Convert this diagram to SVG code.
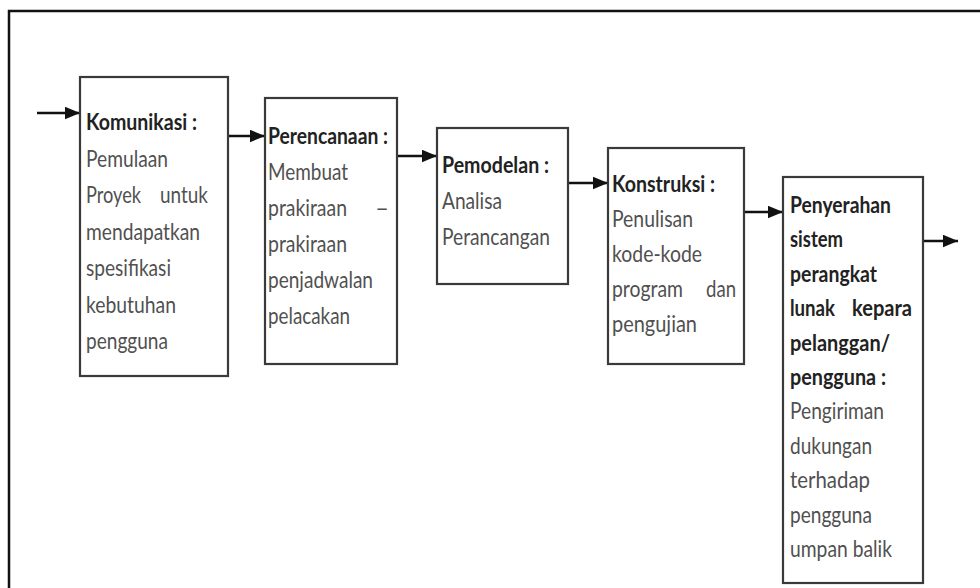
<svg xmlns="http://www.w3.org/2000/svg" width="980" height="588" viewBox="0 0 980 588">
  <style>
    .frame { fill: none; stroke: #111; stroke-width: 2.5; }
    .box { fill: #fff; stroke: #3a3a3a; stroke-width: 2.2; }
    .conn { stroke: #111; stroke-width: 2.5; fill: none; }
    text { font-family: Lato, "Open Sans", "Liberation Sans", sans-serif; font-size: 23.5px; }
    .h { font-weight: bold; fill: #222; }
    .b { fill: #505050; }
  </style>
  <defs>
    <marker id="arrow" viewBox="0 0 12 10" refX="12" refY="5" markerWidth="15" markerHeight="13" markerUnits="userSpaceOnUse" orient="auto">
      <path d="M0,0 L12,5 L0,10 Z" fill="#111"/>
    </marker>
  </defs>

  <rect width="980" height="588" fill="#fff"/>
  <!-- outer frame running off the right and bottom edges -->
  <path class="frame" d="M9,600 V11 H990"/>

  <g id="connectors">
    <line class="conn" x1="37" y1="113" x2="80" y2="113" marker-end="url(#arrow)"/>
    <line class="conn" x1="228" y1="136" x2="265" y2="136" marker-end="url(#arrow)"/>
    <line class="conn" x1="397" y1="156" x2="437" y2="156" marker-end="url(#arrow)"/>
    <line class="conn" x1="568" y1="183" x2="608" y2="183" marker-end="url(#arrow)"/>
    <line class="conn" x1="744" y1="212" x2="783" y2="212" marker-end="url(#arrow)"/>
    <line class="conn" x1="923" y1="241" x2="958" y2="241" marker-end="url(#arrow)"/>
  </g>

  <g id="komunikasi">
    <rect class="box" x="80" y="77" width="148" height="299"/>
    <text class="h" x="86" y="130" textLength="111" lengthAdjust="spacingAndGlyphs">Komunikasi :</text>
    <text class="b" x="86" y="166.5" textLength="82" lengthAdjust="spacingAndGlyphs">Pemulaan</text>
    <text class="b" x="86" y="203" textLength="55" lengthAdjust="spacingAndGlyphs">Proyek</text>
    <text class="b" x="160" y="203" textLength="48" lengthAdjust="spacingAndGlyphs">untuk</text>
    <text class="b" x="86" y="239.5" textLength="114" lengthAdjust="spacingAndGlyphs">mendapatkan</text>
    <text class="b" x="86" y="276" textLength="85" lengthAdjust="spacingAndGlyphs">spesifikasi</text>
    <text class="b" x="86" y="312.5" textLength="90" lengthAdjust="spacingAndGlyphs">kebutuhan</text>
    <text class="b" x="86" y="349" textLength="82" lengthAdjust="spacingAndGlyphs">pengguna</text>
  </g>

  <g id="perencanaan">
    <rect class="box" x="265" y="98" width="132" height="266"/>
    <text class="h" x="268" y="144" textLength="120" lengthAdjust="spacingAndGlyphs">Perencanaan :</text>
    <text class="b" x="268" y="180" textLength="80" lengthAdjust="spacingAndGlyphs">Membuat</text>
    <text class="b" x="268" y="216" textLength="79" lengthAdjust="spacingAndGlyphs">prakiraan</text>
    <text class="b" x="389" y="216" text-anchor="end">–</text>
    <text class="b" x="268" y="252" textLength="79" lengthAdjust="spacingAndGlyphs">prakiraan</text>
    <text class="b" x="268" y="288" textLength="105" lengthAdjust="spacingAndGlyphs">penjadwalan</text>
    <text class="b" x="268" y="324" textLength="82" lengthAdjust="spacingAndGlyphs">pelacakan</text>
  </g>

  <g id="pemodelan">
    <rect class="box" x="437" y="128" width="131" height="156"/>
    <text class="h" x="442" y="173" textLength="107" lengthAdjust="spacingAndGlyphs">Pemodelan :</text>
    <text class="b" x="442" y="209" textLength="60" lengthAdjust="spacingAndGlyphs">Analisa</text>
    <text class="b" x="442" y="245" textLength="108" lengthAdjust="spacingAndGlyphs">Perancangan</text>
  </g>

  <g id="konstruksi">
    <rect class="box" x="608" y="148" width="136" height="216"/>
    <text class="h" x="612" y="192" textLength="103" lengthAdjust="spacingAndGlyphs">Konstruksi :</text>
    <text class="b" x="612" y="227" textLength="81" lengthAdjust="spacingAndGlyphs">Penulisan</text>
    <text class="b" x="612" y="262" textLength="90" lengthAdjust="spacingAndGlyphs">kode-kode</text>
    <text class="b" x="612" y="297" textLength="71" lengthAdjust="spacingAndGlyphs">program</text>
    <text class="b" x="706" y="297" textLength="30" lengthAdjust="spacingAndGlyphs">dan</text>
    <text class="b" x="612" y="332" textLength="85" lengthAdjust="spacingAndGlyphs">pengujian</text>
  </g>

  <g id="penyerahan">
    <rect class="box" x="783" y="177" width="140" height="406"/>
    <text class="h" x="790" y="213" textLength="101" lengthAdjust="spacingAndGlyphs">Penyerahan</text>
    <text class="h" x="790" y="247.4" textLength="53" lengthAdjust="spacingAndGlyphs">sistem</text>
    <text class="h" x="790" y="281.8" textLength="87" lengthAdjust="spacingAndGlyphs">perangkat</text>
    <text class="h" x="790" y="316.2" textLength="45" lengthAdjust="spacingAndGlyphs">lunak</text>
    <text class="h" x="852" y="316.2" textLength="60" lengthAdjust="spacingAndGlyphs">kepara</text>
    <text class="h" x="790" y="350.6" textLength="100" lengthAdjust="spacingAndGlyphs">pelanggan/</text>
    <text class="h" x="790" y="385" textLength="96" lengthAdjust="spacingAndGlyphs">pengguna :</text>
    <text class="b" x="790" y="419.4" textLength="94" lengthAdjust="spacingAndGlyphs">Pengiriman</text>
    <text class="b" x="790" y="453.8" textLength="82" lengthAdjust="spacingAndGlyphs">dukungan</text>
    <text class="b" x="790" y="488.2" textLength="80" lengthAdjust="spacingAndGlyphs">terhadap</text>
    <text class="b" x="790" y="522.6" textLength="82" lengthAdjust="spacingAndGlyphs">pengguna</text>
    <text class="b" x="790" y="557" textLength="102" lengthAdjust="spacingAndGlyphs">umpan balik</text>
  </g>
</svg>
